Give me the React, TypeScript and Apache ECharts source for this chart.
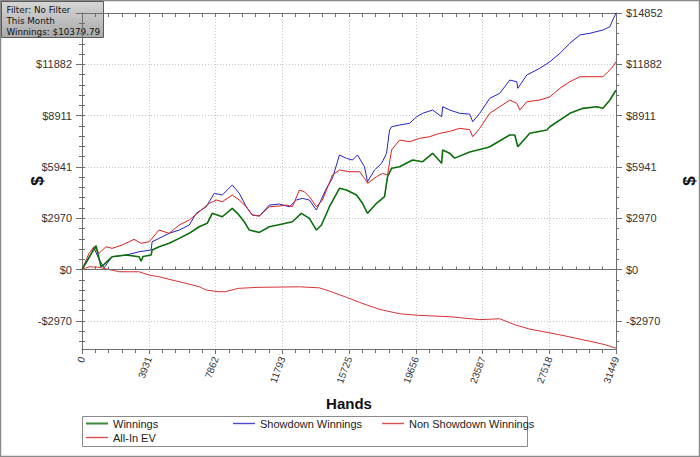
import React, { useEffect, useRef } from 'react';
import * as echarts from 'echarts';

const HANDS_MAX = 31449;
const X_STEP = 3931.125;
const Y_MIN = -4600;
const Y_MAX = 14852;
const Y_STEP = 2970.4;
const Y_MAJOR = [-2970.4, 0, 2970.4, 5940.8, 8911.2, 11881.6, 14852];
// the top-left label is hidden under the filter box in the reference
const Y_LEFT_LABELS = [-2970.4, 0, 2970.4, 5940.8, 8911.2, 11881.6];

const winnings: [number, number][] = [
  [0, 0], [413, 700], [826, 1378], [1121, 162], [1298, 300], [1770, 741], [2596, 840], [3363, 740], [3481, 480], [3600, 760],
  [4071, 840], [4130, 1130], [4543, 1320], [5133, 1517], [5723, 1806], [6313, 2096], [6903, 2478], [7375, 2675], [7670, 3254],
  [8260, 3057], [8850, 3543], [9145, 3271], [9558, 2768], [9853, 2287], [10443, 2150], [11033, 2478], [11800, 2635], [12390, 2768],
  [12921, 3254], [13393, 2964], [13806, 2287], [14101, 2577], [14573, 3636], [15163, 4701], [15576, 4603], [16166, 4314],
  [16520, 3833], [16815, 3254], [17346, 3833], [17818, 4215], [17995, 5373], [18231, 5860], [18703, 5952], [19470, 6340],
  [20060, 6242], [20650, 6728], [21181, 6149], [21240, 6919], [21653, 6728], [21948, 6450], [22833, 6800], [23836, 7050],
  [24013, 7110], [25193, 7788], [25488, 7788], [25665, 7110], [26373, 7886], [27376, 8077], [27553, 8268], [28733, 9044],
  [29500, 9333], [30326, 9426], [30680, 9333], [31093, 9814], [31270, 10104], [31449, 10380],
];

const showdown: [number, number][] = [
  [0, 0], [413, 650], [708, 1245], [1003, 600], [1298, 100], [1770, 741], [2596, 840], [3363, 1030], [4071, 1130], [4130, 1610],
  [4543, 1806], [5133, 2096], [5723, 2287], [6313, 2577], [6726, 3254], [7316, 3636], [7788, 4412], [8260, 4314], [8850, 4893],
  [9263, 4412], [9676, 3636], [10030, 3156], [10443, 3098], [11033, 3734], [11623, 3793], [12213, 3636], [12626, 4024],
  [12980, 4122], [13393, 4024], [13806, 3445], [14396, 4701], [14750, 5280], [15163, 6630], [15576, 6438], [15930, 6340],
  [16225, 6630], [16638, 5952], [16815, 5084], [17228, 5761], [17641, 6149], [17936, 6728], [18113, 8077], [18231, 8268],
  [18703, 8367], [19293, 8465], [19706, 8847], [20060, 9044], [20650, 9235], [21181, 8847], [21240, 9426], [21653, 9235],
  [22243, 9044], [22833, 9000], [23010, 8558], [23423, 9044], [24013, 9912], [24603, 10202], [25193, 10972], [25606, 10873],
  [25665, 10491], [26196, 11262], [26963, 11649], [27553, 12031], [28143, 12514], [28733, 13097], [29323, 13581],
  [29913, 13678], [30680, 13867], [31093, 14060], [31211, 14348], [31449, 14852],
];

const nonShowdown: [number, number][] = [
  [0, 0], [413, 938], [708, 1320], [1003, 938], [1416, 1320], [1770, 1227], [2360, 1418], [3068, 1748], [3481, 1517],
  [3953, 1610], [4543, 2287], [5133, 2096], [5723, 2577], [6313, 2866], [6903, 3347], [7493, 3833], [7906, 4024], [8260, 3926],
  [8850, 4314], [9263, 4024], [9676, 3636], [10030, 3156], [10443, 3098], [11033, 3636], [11623, 3677], [12036, 3734],
  [12390, 3636], [12803, 4603], [13098, 4505], [13393, 4215], [13806, 3636], [14160, 4024], [14750, 5471], [15163, 5761],
  [15753, 5663], [16343, 5663], [16638, 5280], [16815, 4991], [17346, 5373], [17700, 5570], [17995, 5471], [18231, 6919],
  [18703, 7498], [19293, 7400], [19883, 7596], [20473, 7689], [21063, 7886], [21653, 8000], [22243, 8174], [22833, 8100],
  [23010, 7689], [23423, 8174], [24013, 9044], [24603, 9426], [25193, 9814], [25606, 9623], [25783, 9235], [26196, 9716],
  [26963, 9814], [27553, 10000], [28143, 10491], [28733, 10873], [29323, 11163], [29913, 11163], [30680, 11163],
  [30975, 11453], [31270, 11742], [31449, 12031],
];

const allInEV: [number, number][] = [
  [0, 0], [413, 160], [1003, 130], [1593, 0], [2183, -127], [3363, -130], [3953, -318], [4543, -420], [5310, -608],
  [6136, -800], [6903, -996], [7316, -1187], [8024, -1285], [8437, -1285], [9204, -1089], [10384, -1030], [12803, -1000],
  [13983, -1060], [14573, -1250], [15500, -1580], [16343, -1900], [17500, -2300], [18703, -2560], [19800, -2650],
  [21653, -2730], [23423, -2900], [24603, -2850], [25500, -3200], [26373, -3450], [28143, -3780], [29913, -4150],
  [30798, -4350], [31449, -4550],
];

const FILTER_TEXT = ['Filter: No Filter', 'This Month', 'Winnings: $10379.79'];
const Y_NAME = '$';

const FONT = 'Liberation Sans';

const minorY: number[] = [];
for (let k = Math.ceil(Y_MIN / (Y_STEP / 5)); k * (Y_STEP / 5) <= Y_MAX + 0.01; k++) minorY.push(k * (Y_STEP / 5));

const fmtY = (v: number) => (v < 0 ? '-$' : '$') + Math.abs(Math.round(v));

export default function App() {
  const ref = useRef<HTMLDivElement>(null);
  useEffect(() => {
    document.body.style.margin = '0';
    const chart = echarts.init(ref.current!, undefined, { renderer: 'svg' });
    const axisColor = '#6e6e6e';
    const baseY = {
      type: 'value' as const,
      min: Y_MIN,
      max: Y_MAX,
      axisLine: { show: false },
      axisLabel: { show: false },
      splitLine: { show: false },
    };
    const baseX = {
      type: 'value' as const,
      min: 0,
      max: HANDS_MAX,
      interval: X_STEP,
      axisLabel: { show: false },
      splitLine: { show: false },
      axisLine: { show: false },
    };
    const legendCommon = {
      icon: 'rect',
      itemWidth: 22,
      itemHeight: 1.4,
      padding: 0,
      textStyle: { fontFamily: FONT, fontSize: 11, color: '#222' },
    };
    const nameText = (x: number) => ({
      type: 'text',
      x,
      y: 181,
      rotation: Math.PI / 2,
      style: {
        text: Y_NAME,
        fontFamily: FONT,
        fontSize: 17,
        fontWeight: 'bold',
        fill: '#111',
        align: 'center',
        verticalAlign: 'middle',
      },
    });
    chart.setOption({
      animation: false,
      backgroundColor: '#ffffff',
      grid: { left: 82, right: 84, top: 13, bottom: 108, containLabel: false },
      xAxis: [
        {
          ...baseX,
          position: 'bottom',
          name: 'Hands',
          nameLocation: 'middle',
          nameGap: 47,
          nameTextStyle: { fontFamily: FONT, fontSize: 15, fontWeight: 'bold', color: '#111' },
          axisLine: { show: true, onZero: false, lineStyle: { color: axisColor } },
          axisTick: { show: true, inside: false, length: 5, lineStyle: { color: axisColor } },
          minorTick: { show: true, splitNumber: 5, length: 4, lineStyle: { color: axisColor } },
          axisLabel: {
            show: true,
            rotate: 70,
            margin: 8,
            fontFamily: FONT,
            fontSize: 10,
            color: '#333',
            formatter: (v: number) => String(Math.round(v)),
          },
          splitLine: { show: true, lineStyle: { color: '#c8c8c8', type: [1, 2] } },
        },
        {
          ...baseX,
          position: 'bottom',
          axisTick: { show: true, inside: true, length: 3, lineStyle: { color: axisColor } },
          minorTick: { show: true, splitNumber: 5, length: 3, lineStyle: { color: axisColor } },
        },
        {
          ...baseX,
          position: 'top',
          axisLine: { show: true, onZero: false, lineStyle: { color: axisColor } },
          axisTick: { show: true, inside: true, length: 4, lineStyle: { color: axisColor } },
          minorTick: { show: true, splitNumber: 5, length: 4, lineStyle: { color: axisColor } },
        },
      ],
      yAxis: [
        {
          ...baseY,
          position: 'left',
          axisLine: { show: true, onZero: false, lineStyle: { color: axisColor } },
          axisTick: { show: true, inside: false, length: 6, customValues: Y_MAJOR, lineStyle: { color: axisColor } },
          axisLabel: {
            show: true,
            margin: 10,
            customValues: Y_LEFT_LABELS,
            fontFamily: FONT,
            fontSize: 11,
            color: '#333',
            formatter: fmtY,
          },
          splitLine: { show: true, lineStyle: { color: '#c8c8c8', type: [1, 2] } },
        },
        {
          ...baseY,
          position: 'left',
          axisTick: { show: true, inside: true, length: 3, customValues: minorY, lineStyle: { color: axisColor } },
        },
        {
          ...baseY,
          position: 'left',
          axisTick: { show: true, inside: false, length: 3, customValues: minorY, lineStyle: { color: axisColor } },
        },
        {
          ...baseY,
          position: 'right',
          axisLine: { show: true, onZero: false, lineStyle: { color: axisColor } },
          axisTick: { show: true, inside: false, length: 6, customValues: Y_MAJOR, lineStyle: { color: axisColor } },
          axisLabel: {
            show: true,
            margin: 10,
            customValues: Y_MAJOR,
            fontFamily: FONT,
            fontSize: 11,
            color: '#333',
            formatter: fmtY,
          },
        },
        {
          ...baseY,
          position: 'right',
          axisTick: { show: true, inside: true, length: 3, customValues: minorY, lineStyle: { color: axisColor } },
        },
        {
          ...baseY,
          position: 'right',
          axisTick: { show: true, inside: false, length: 3, customValues: minorY, lineStyle: { color: axisColor } },
        },
      ],
      legend: [
        { ...legendCommon, itemHeight: 2, data: ['Winnings'], left: 86, top: 418 },
        { ...legendCommon, data: ['Showdown Winnings'], left: 233, top: 418 },
        { ...legendCommon, data: ['Non Showdown Winnings'], left: 382, top: 418 },
        { ...legendCommon, data: ['All-In EV'], left: 86, top: 432 },
      ],
      graphic: [
        {
          type: 'rect',
          shape: { x: 0.5, y: 0.5, width: 699, height: 456 },
          style: { fill: 'none', stroke: '#8a8a8a', lineWidth: 1.5 },
          silent: true,
        },
        {
          type: 'rect',
          shape: { x: 82.5, y: 416.5, width: 445, height: 30 },
          style: { fill: 'none', stroke: '#8a8a8a', lineWidth: 1 },
          silent: true,
        },
        nameText(37),
        nameText(689),
        {
          type: 'group',
          left: 1,
          top: 1,
          z: 100,
          children: [
            {
              type: 'rect',
              shape: { x: 0, y: 0, width: 102, height: 36 },
              style: {
                fill: new echarts.graphic.LinearGradient(0, 0, 0, 1, [
                  { offset: 0, color: '#d6d6d6' },
                  { offset: 1, color: '#a9a9a9' },
                ]),
                stroke: '#5a5a5a',
                lineWidth: 1,
              },
            },
            {
              type: 'text',
              x: 5,
              y: 3,
              style: {
                text: FILTER_TEXT.join('\n'),
                fontFamily: 'DejaVu Sans',
                fontSize: 8.8,
                lineHeight: 11,
                fill: '#111',
              },
            },
          ],
        },
      ],
      series: [
        {
          name: 'Showdown Winnings',
          type: 'line',
          data: showdown,
          symbol: 'none',
          color: '#2323c8',
          itemStyle: { color: '#4a4ad0' },
          lineStyle: { width: 1, color: '#2323c8' },
        },
        {
          name: 'Non Showdown Winnings',
          type: 'line',
          data: nonShowdown,
          symbol: 'none',
          color: '#d62020',
          itemStyle: { color: '#d85050' },
          lineStyle: { width: 1, color: '#d62020' },
        },
        {
          name: 'All-In EV',
          type: 'line',
          data: allInEV,
          symbol: 'none',
          color: '#d43434',
          itemStyle: { color: '#d85050' },
          lineStyle: { width: 1, color: '#d43434' },
          markLine: {
            silent: true,
            symbol: 'none',
            label: { show: false },
            lineStyle: { color: '#6e6e6e', type: 'solid', width: 1 },
            data: [{ yAxis: 0 }],
          },
        },
        {
          name: 'Winnings',
          type: 'line',
          data: winnings,
          symbol: 'none',
          color: '#0b6e0b',
          itemStyle: { color: '#3a8a3a' },
          lineStyle: { width: 1.6, color: '#0b6e0b' },
        },
      ],
    });
    return () => chart.dispose();
  }, []);
  return <div ref={ref} style={{ position: 'absolute', left: 0, top: 0, width: 700, height: 457 }} />;
}
